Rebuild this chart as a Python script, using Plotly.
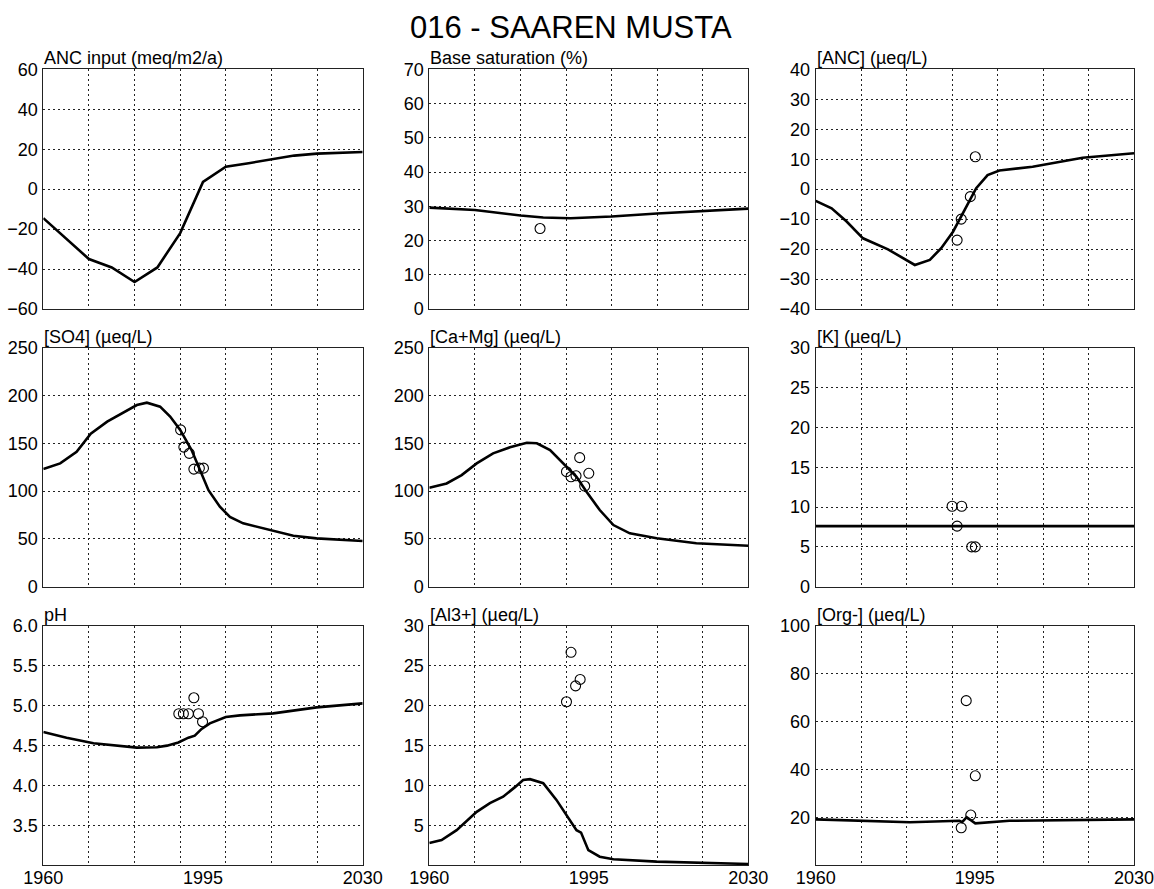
import plotly.graph_objects as go

# ---------------- data ----------------
main_title = "016 - SAAREN MUSTA"
x_tick_years = [1960, 1995, 2030]
x_grid_years = [1970, 1980, 1990, 2000, 2010, 2020]

# ANC input (meq/m2/a)
anc_in_years = [1960, 1970, 1975, 1980, 1985, 1990, 1995, 2000, 2005, 2010, 2015, 2020, 2030]
anc_in_model = [-14.5, -35, -39.2, -46.5, -39.2, -22, 3.6, 11.2, 13, 15, 16.8, 17.8, 18.6]

# Base saturation (%)
bs_years = [1960, 1970, 1980, 1985, 1991, 2000, 2010, 2020, 2030]
bs_model = [29.6, 28.9, 27.3, 26.7, 26.5, 27.0, 27.9, 28.6, 29.3]
bs_obs_years = [1984.3]
bs_obs = [23.5]

# [ANC] (ueq/L)
anc_years = [1960, 1963.5, 1966.8, 1970.4, 1975.9, 1978.5, 1981.8, 1985.1, 1987.6, 1990.2,
             1993.1, 1995.3, 1997.8, 2000.4, 2007.7, 2013.6, 2018.7, 2030]
anc_model = [-3.9, -6.4, -10.8, -16.4, -20.1, -22.5, -25.3, -23.6, -19.7, -14.2,
             -5.8, 0.3, 4.7, 6.2, 7.5, 9.2, 10.5, 12.0]
anc_obs_years = [1991.1, 1992.0, 1994.0, 1995.1]
anc_obs = [-17, -10, -2.5, 10.8]

# [SO4] (ueq/L)
so4_years = [1960, 1963.7, 1967.3, 1970.4, 1974, 1977.5, 1980.5, 1982.7, 1985.6, 1987.8,
             1990, 1992.5, 1994.3, 1996.2, 1998.7, 2000.9, 2003.8, 2009.7, 2014.8, 2019.9, 2030]
so4_model = [123, 129, 141, 160, 172.6, 182, 190, 192.5, 188.3, 178,
             164, 143, 122, 101, 83.7, 73, 66.3, 59.3, 53.3, 50.6, 47.8]
so4_obs_years = [1990.1, 1990.8, 1992.0, 1993.0, 1994.2, 1995.1]
so4_obs = [164, 146, 139.5, 123, 124, 124]

# [Ca+Mg] (ueq/L)
camg_years = [1960, 1963.8, 1967.1, 1970.4, 1974, 1977.7, 1981.4, 1983.6, 1986.5, 1989.4,
              1992.3, 1994.5, 1997.4, 2000.4, 2004, 2009.9, 2018.6, 2030]
camg_model = [103.6, 108, 116.8, 129, 139.5, 145.8, 150.6, 150, 143, 129,
              115, 99.4, 80.2, 64.5, 55.8, 50.6, 45.4, 42.9]
camg_obs_years = [1990.1, 1991.1, 1992.2, 1993.0, 1994.1, 1995.0]
camg_obs = [120.3, 115, 116, 135, 105.3, 118.6]

# [K] (ueq/L)
k_years = [1960, 2030]
k_model = [7.6, 7.6]
k_obs_years = [1990.0, 1992.1, 1991.1, 1994.3, 1995.1]
k_obs = [10.1, 10.1, 7.6, 5.0, 5.0]

# pH
ph_years = [1960, 1965.1, 1971, 1976.1, 1980.5, 1984.9, 1987.1, 1989.6, 1991.8, 1993.2,
            1994.7, 1996.5, 2000, 2003.1, 2010.4, 2019.9, 2030]
ph_model = [4.67, 4.60, 4.53, 4.50, 4.475, 4.48, 4.50, 4.54, 4.60, 4.625,
            4.71, 4.78, 4.86, 4.88, 4.905, 4.98, 5.03]
ph_obs_years = [1989.7, 1990.7, 1991.8, 1993.0, 1994.0, 1994.9]
ph_obs = [4.9, 4.9, 4.9, 5.1, 4.9, 4.8]

# [Al3+] (ueq/L)
al_years = [1960, 1962.7, 1966, 1970.4, 1973.3, 1976.2, 1978.8, 1980.6, 1982.1, 1985,
            1987.9, 1990.1, 1992.3, 1993.3, 1994.9, 1997.4, 2000.4, 2009.9, 2022.3, 2030]
al_model = [2.8, 3.17, 4.4, 6.7, 7.8, 8.6, 9.8, 10.7, 10.8, 10.3,
            8.2, 6.3, 4.4, 4.1, 1.9, 1.08, 0.75, 0.46, 0.25, 0.17]
al_obs_years = [1991.1, 1990.1, 1992.1, 1993.1]
al_obs = [26.7, 20.5, 22.5, 23.3]

# [Org-] (ueq/L)
org_years = [1960, 1980.7, 1991.6, 1992.2, 1993.2, 1995.1, 2002.6, 2030]
org_model = [19.2, 18.0, 18.6, 18.0, 20.1, 17.5, 18.6, 19.2]
org_obs_years = [1993.1, 1995.1, 1994.1, 1992.0]
org_obs = [68.8, 37.4, 21.0, 15.7]

# ---------------- layout helpers ----------------
W, H = 1154, 889
col_px = [(43.3, 362.7), (429.3, 748.3), (815.7, 1134.0)]
row_px = [(69.3, 309.0), (347.7, 586.7), (626.0, 865.3)]

panels = [
    ("ANC input (meq/m2/a)", anc_in_years, anc_in_model, [], [], [-60, 60],
     [-60, -40, -20, 0, 20, 40, 60], None),
    ("Base saturation (%)", bs_years, bs_model, bs_obs_years, bs_obs, [0, 70],
     [0, 10, 20, 30, 40, 50, 60, 70], None),
    ("[ANC] (µeq/L)", anc_years, anc_model, anc_obs_years, anc_obs, [-40, 40],
     [-40, -30, -20, -10, 0, 10, 20, 30, 40], None),
    ("[SO4] (µeq/L)", so4_years, so4_model, so4_obs_years, so4_obs, [0, 250],
     [0, 50, 100, 150, 200, 250], None),
    ("[Ca+Mg] (µeq/L)", camg_years, camg_model, camg_obs_years, camg_obs, [0, 250],
     [0, 50, 100, 150, 200, 250], None),
    ("[K] (µeq/L)", k_years, k_model, k_obs_years, k_obs, [0, 30],
     [0, 5, 10, 15, 20, 25, 30], None),
    ("pH", ph_years, ph_model, ph_obs_years, ph_obs, [3.0, 6.0],
     [3.5, 4.0, 4.5, 5.0, 5.5, 6.0], ["3.5", "4.0", "4.5", "5.0", "5.5", "6.0"]),
    ("[Al3+] (µeq/L)", al_years, al_model, al_obs_years, al_obs, [0, 30],
     [5, 10, 15, 20, 25, 30], None),
    ("[Org-] (µeq/L)", org_years, org_model, org_obs_years, org_obs, [0, 100],
     [20, 40, 60, 80, 100], None),
]

FONT = "Liberation Sans, Arial, sans-serif"
GRID_DASH = "2px,3px"
GRID_COLOR = "#222222"

fig = go.Figure()
layout = dict(
    width=W, height=H, autosize=False,
    margin=dict(l=0, r=0, t=0, b=0, pad=0, autoexpand=False),
    paper_bgcolor="white", plot_bgcolor="white",
    showlegend=False,
    font=dict(family=FONT, size=18, color="black"),
    annotations=[],
)

for i, (title, mx, my, ox, oy, yr, ytv, ytt) in enumerate(panels):
    r, c = divmod(i, 3)
    n = "" if i == 0 else str(i + 1)
    xa, ya = "x" + n, "y" + n
    x0, x1 = col_px[c]
    yt, yb = row_px[r]
    xdom = [x0 / W, x1 / W]
    ydom = [1 - yb / H, 1 - yt / H]

    fig.add_trace(go.Scatter(x=mx, y=my, mode="lines",
                             line=dict(color="black", width=2.6),
                             xaxis=xa, yaxis=ya, hoverinfo="skip"))
    if ox:
        fig.add_trace(go.Scatter(x=ox, y=oy, mode="markers",
                                 marker=dict(symbol="circle-open", size=10,
                                             color="black", line=dict(width=1.1, color="black")),
                                 xaxis=xa, yaxis=ya, hoverinfo="skip"))

    layout["xaxis" + n] = dict(
        domain=xdom, anchor=ya, range=[1960, 2030], automargin=False,
        tickmode="array", tickvals=x_tick_years,
        ticktext=[str(v) for v in x_tick_years],
        showticklabels=(r == 2), ticks="", showgrid=False, zeroline=False,
        showline=True, mirror=True, linecolor="#222222", linewidth=1,
        tickfont=dict(family=FONT, size=18, color="black"),
        ticklabeloverflow="allow", ticklabelstandoff=-4,
        minor=dict(tickmode="array", tickvals=x_grid_years, showgrid=True,
                   gridcolor=GRID_COLOR, griddash=GRID_DASH, gridwidth=1, ticks=""),
        fixedrange=True,
    )
    ydict = dict(
        domain=ydom, anchor=xa, range=yr, automargin=False,
        tickmode="array", tickvals=ytv,
        ticks="", showgrid=True, gridcolor=GRID_COLOR, griddash=GRID_DASH, gridwidth=1,
        zeroline=False, showline=True, mirror=True, linecolor="#222222", linewidth=1,
        tickfont=dict(family=FONT, size=18, color="black"),
        ticklabeloverflow="allow", ticklabelstandoff=1, fixedrange=True,
    )
    if ytt is not None:
        ydict["ticktext"] = ytt
    layout["yaxis" + n] = ydict

    layout["annotations"].append(dict(
        text=title, xref="paper", yref="paper", x=xdom[0], y=ydom[1],
        xanchor="left", yanchor="bottom", showarrow=False,
        font=dict(family=FONT, size=18, color="black"), borderpad=0,
    ))

layout["annotations"].append(dict(
    text=main_title, xref="paper", yref="paper", x=571 / W, y=1 - 28 / H,
    xanchor="center", yanchor="middle", showarrow=False,
    font=dict(family=FONT, size=31, color="black"),
))

fig.update_layout(**layout)
fig.write_html("out.html")
